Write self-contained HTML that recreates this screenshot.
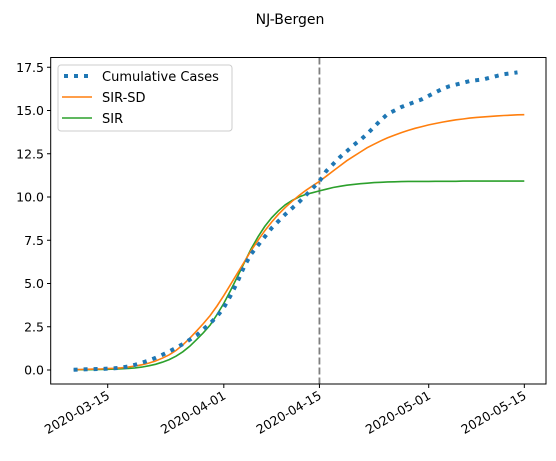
<!DOCTYPE html>
<html><head><meta charset="utf-8"><style>
body{margin:0;background:#fff;}
svg{font-family:"DejaVu Sans","Liberation Sans",sans-serif;}
</style></head><body>
<svg width="556" height="456" viewBox="0 0 556 456" xmlns="http://www.w3.org/2000/svg">
<rect width="556" height="456" fill="#fff"/>
<text x="290" y="24" font-size="14" text-anchor="middle">NJ-Bergen</text>
<g id="plot"></g>
<rect x="50.7" y="57.5" width="495.3" height="326.5" fill="none" stroke="#000" stroke-width="1"/>
<g>
<rect x="58" y="65" width="174" height="66" rx="3" fill="#fff" fill-opacity="0.8" stroke="#ccc"/>
<line x1="64" y1="76" x2="92" y2="76" stroke="#1f77b4" stroke-width="4" stroke-dasharray="4,6"/>
<text x="102" y="81" font-size="13">Cumulative Cases</text>
<line x1="62" y1="97" x2="92" y2="97" stroke="#ff7f0e" stroke-width="1.6"/>
<text x="102" y="102" font-size="13">SIR-SD</text>
<line x1="62" y1="118" x2="92" y2="118" stroke="#2ca02c" stroke-width="1.6"/>
<text x="102" y="123" font-size="13">SIR</text>
</g>
</svg>
<script>
const startDay = -5; // days relative to 2020-03-15
const cumulative = [0.02,0.03,0.04,0.05,0.06,0.08,0.1,0.14,0.2,0.3,0.42,0.55,0.7,0.88,1.07,1.28,1.5,1.75,2.0,2.35,2.7,3.1,3.6,4.3,5.1,6.0,6.7,7.2,7.7,8.2,8.6,9.0,9.35,9.7,10.1,10.5,10.9,11.5,11.9,12.3,12.65,13.0,13.3,13.65,14.05,14.45,14.8,15.0,15.2,15.35,15.5,15.65,15.85,16.05,16.25,16.4,16.5,16.6,16.7,16.75,16.8,16.9,17.0,17.1,17.15,17.2];
const sirsd = [0.02,0.03,0.04,0.05,0.06,0.08,0.1,0.13,0.17,0.23,0.3,0.4,0.52,0.68,0.88,1.13,1.45,1.83,2.25,2.68,3.15,3.7,4.3,4.95,5.6,6.25,6.9,7.5,8.05,8.55,9.0,9.4,9.75,10.08,10.38,10.65,10.9,11.2,11.5,11.8,12.1,12.35,12.6,12.85,13.05,13.25,13.42,13.58,13.72,13.85,13.97,14.07,14.17,14.25,14.33,14.4,14.46,14.51,14.56,14.6,14.63,14.66,14.69,14.71,14.73,14.75,14.76];
const sir = [0.01,0.015,0.02,0.025,0.03,0.04,0.05,0.07,0.09,0.12,0.17,0.24,0.33,0.45,0.6,0.8,1.05,1.37,1.75,2.15,2.6,3.2,3.85,4.6,5.4,6.2,7.0,7.7,8.3,8.8,9.2,9.55,9.8,10.0,10.15,10.25,10.35,10.45,10.55,10.62,10.68,10.73,10.77,10.8,10.83,10.85,10.87,10.88,10.89,10.9,10.9,10.9,10.9,10.91,10.91,10.91,10.91,10.92,10.92,10.92,10.92,10.92,10.92,10.92,10.92,10.92,10.92];
const yTicks = [0,2.5,5,7.5,10,12.5,15,17.5];
const xTickDays = [0,17,31,47,61];
const xTickLabels = ["2020-03-15","2020-04-01","2020-04-15","2020-05-01","2020-05-15"];
const markerDay = 31;

const NS="http://www.w3.org/2000/svg";
const X = d => 107.7 + d*6.83;
const Y = v => 370 - v*17.3;
const g = document.getElementById('plot');
function mk(t,a){const e=document.createElementNS(NS,t);for(const k in a)e.setAttribute(k,a[k]);return e;}

yTicks.forEach(v=>{
  const t=mk('line',{x1:47,x2:50.7,y1:Y(v),y2:Y(v),stroke:'#000'});
  
  
  g.appendChild(t);
  const l=mk('text',{x:44,y:Y(v)+4.5,'font-size':12.5,'text-anchor':'end'});
  
  
  l.textContent=v.toFixed(1);g.appendChild(l);
});
xTickDays.forEach((d,i)=>{
  const t=mk('line',{x1:X(d),x2:X(d),y1:384,y2:388,stroke:'#000'});
  
  
  g.appendChild(t);
  const l=mk('text',{x:X(d)+3,y:398,'font-size':12.5,'text-anchor':'end',transform:`rotate(-30 ${X(d)+3} 398)`});
  
  
  l.textContent=xTickLabels[i];g.appendChild(l);
});
const vl=mk('line',{x1:X(markerDay),x2:X(markerDay),y1:57.5,y2:384,stroke:'#7f7f7f','stroke-width':1.8,'stroke-dasharray':'7,3'});


g.appendChild(vl);
function series(arr,color,w,dash,name){
  const pts=arr.map((v,i)=>X(startDay+i).toFixed(1)+','+Y(v).toFixed(1)).join(' ');
  const p=mk('polyline',{points:pts,fill:'none',stroke:color,'stroke-width':w});
  if(dash)p.setAttribute('stroke-dasharray',dash);
  
  
  g.appendChild(p);
}
series(sir,'#2ca02c',1.6,null,'sir-line');
series(sirsd,'#ff7f0e',1.6,null,'sir-sd-line');
series(cumulative,'#1f77b4',4,'4,6','cumulative-cases-line');
</script>
</body></html>
